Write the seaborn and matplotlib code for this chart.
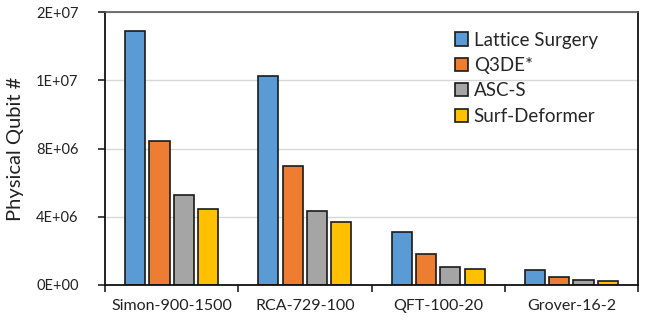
import matplotlib
matplotlib.use("Agg")
import matplotlib.pyplot as plt
import seaborn as sns
import pandas as pd
import numpy as np

categories = ["Simon-900-1500", "RCA-729-100", "QFT-100-20", "Grover-16-2"]
methods = ["Lattice Surgery", "Q3DE*", "ASC-S", "Surf-Deformer"]
lattice_surgery = [14.9e6, 12.27e6, 3.1e6, 0.86e6]
q3de = [8.45e6, 6.99e6, 1.81e6, 0.49e6]
asc_s = [5.27e6, 4.35e6, 1.05e6, 0.29e6]
surf_deformer = [4.47e6, 3.69e6, 0.92e6, 0.25e6]
ytick_values = [0, 4e6, 8e6, 12e6, 16e6]
ytick_labels = ["0E+00", "4E+06", "8E+06", "1E+07", "2E+07"]
colors = ["#5B9BD5", "#ED7D31", "#A5A5A5", "#FFC000"]

rows = []
for m, vals in zip(methods, [lattice_surgery, q3de, asc_s, surf_deformer]):
    for c, v in zip(categories, vals):
        rows.append({"Benchmark": c, "Method": m, "Qubits": v})
df = pd.DataFrame(rows)

sns.set_theme(style="white")
plt.rcParams["font.family"] = ["Lato", "DejaVu Sans"]

fig = plt.figure(figsize=(6.55, 3.21), dpi=100)
ax = fig.add_axes([105/655, 36/321, 533/655, 273/321])

sns.barplot(data=df, x="Benchmark", y="Qubits", hue="Method", order=categories,
            hue_order=methods, palette=colors, width=0.73, gap=0.17,
            edgecolor="#1a1a1a", linewidth=1.2, ax=ax, saturation=1)

ax.set_ylim(0, 16e6)
ax.set_xlim(-0.5, 3.5)
ax.set_yticks(ytick_values)
ax.set_yticklabels(ytick_labels, fontsize=10.5, color="#222222")
ax.yaxis.grid(True, color="#D9D9D9", linewidth=1)
ax.set_axisbelow(True)
ax.set_xticks(range(len(categories)))
ax.set_xticklabels(categories, fontsize=11.5, color="#222222")
ax.tick_params(axis="x", which="major", length=0, pad=10)
ax.set_xticks([-0.5, 0.5, 1.5, 2.5, 3.5], minor=True)
ax.tick_params(axis="x", which="minor", length=5, width=1.2, color="#222222", direction="out", bottom=True)
ax.tick_params(axis="y", length=5, width=1.2, color="#222222", direction="out", left=True, pad=14)
ax.set_xlabel("")
ax.set_ylabel("Physical Qubit #", fontsize=14.5, color="#222222", labelpad=9)

for side in ["left", "bottom", "right"]:
    ax.spines[side].set_color("#111111")
    ax.spines[side].set_linewidth(1.3)
ax.spines["top"].set_color("#595959")
ax.spines["top"].set_linewidth(1.2)

leg = ax.legend(loc="upper left", bbox_to_anchor=(0.625, 0.99), frameon=False,
                fontsize=13.5, handlelength=0.7, handleheight=0.7, handletextpad=0.3,
                labelspacing=0.45)
for h in leg.legend_handles:
    h.set_edgecolor("#1a1a1a")
    h.set_linewidth(1.2)

fig.savefig("out.png", dpi=100)
